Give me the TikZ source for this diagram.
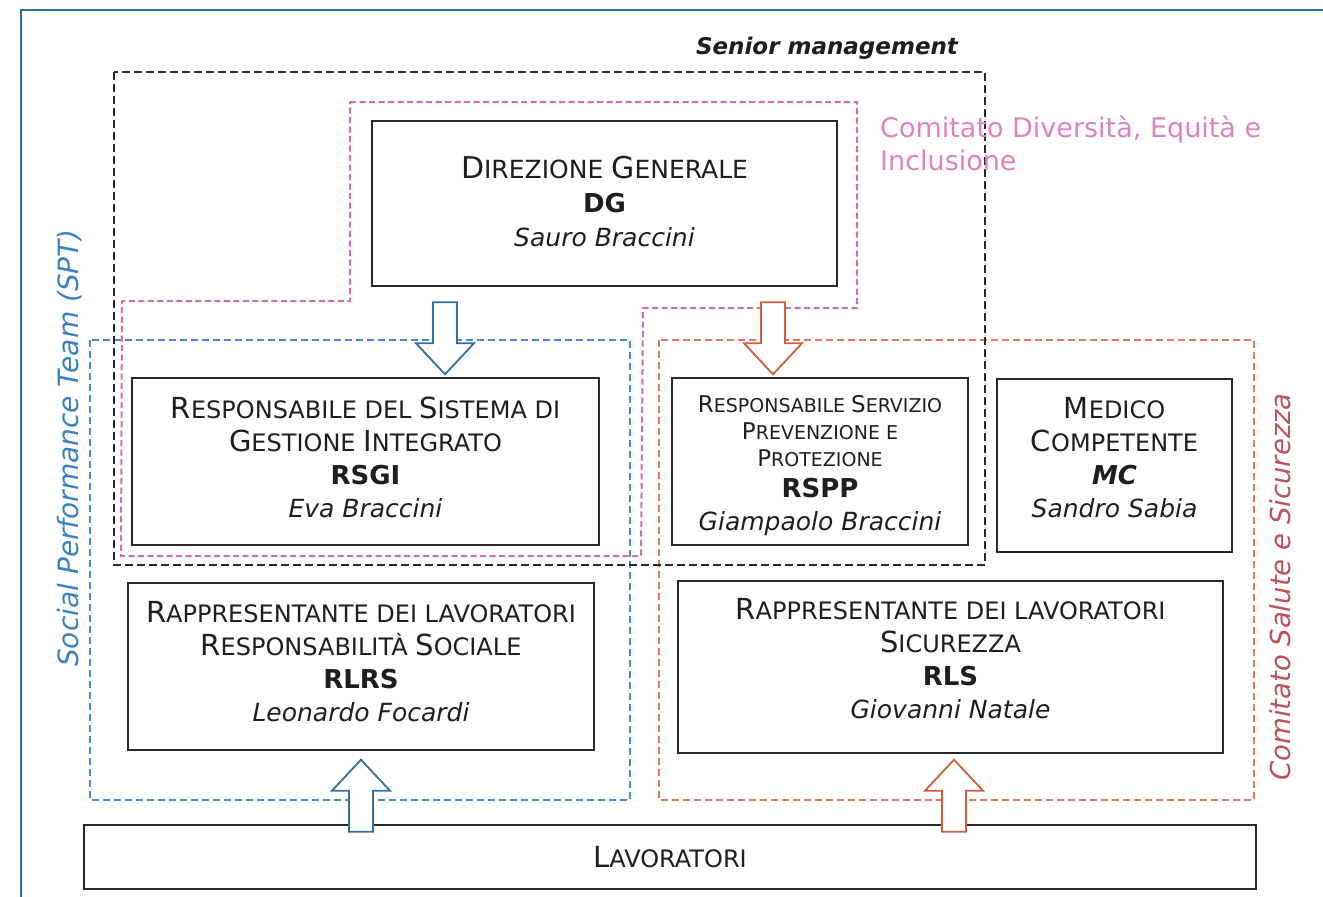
\documentclass[tikz,border=0pt]{standalone}
\usepackage{fontspec}
\setmainfont{DejaVu Sans}
\definecolor{framec}{RGB}{45,115,155}
\definecolor{boxgray}{RGB}{40,40,40}
\definecolor{textgray}{RGB}{30,30,30}
\definecolor{pinkline}{RGB}{205,110,175}
\definecolor{pinktext}{RGB}{222,130,195}
\definecolor{blueline}{RGB}{70,140,200}
\definecolor{bluetext}{RGB}{60,130,195}
\definecolor{orangeline}{RGB}{225,120,90}
\definecolor{redtext}{RGB}{190,80,95}
\definecolor{bluearrow}{RGB}{50,110,160}
\definecolor{orangearrow}{RGB}{205,95,65}
\newcommand\BC[1]{{\fontsize{29}{33}\selectfont #1}}
\newcommand\DBC[1]{{\fontsize{30}{34}\selectfont #1}}
\newcommand\SBC[1]{{\fontsize{23}{27}\selectfont #1}}
\newcommand\CODE[1]{{\fontsize{26}{33}\selectfont\bfseries #1}}
\newcommand\NAME[1]{{\fontsize{25}{33}\selectfont\itshape #1}}
\tikzset{
  box/.style={draw=boxgray, line width=2.6pt, align=center, inner sep=0pt,
    text=textgray, font=\fontsize{24}{33}\selectfont},
  smallbox/.style={box, font=\fontsize{19}{27}\selectfont},
  seniorgrp/.style={draw=boxgray, line width=2.4pt, dash pattern=on 8pt off 4pt},
  pinkgrp/.style={draw=pinkline, line width=2pt, dash pattern=on 6pt off 3.5pt},
  bluegrp/.style={draw=blueline, line width=2pt, dash pattern=on 7pt off 4pt},
  orangegrp/.style={draw=orangeline, line width=2pt, dash pattern=on 7pt off 4pt},
  blockarrow/.style={line width=1.8pt, fill=white},
  downarr/.pic={\draw[pic actions] (-12,0) -- (12,0) -- (12,41) -- (29,41) -- (0,72) -- (-29,41) -- (-12,41) -- cycle;},
  uparr/.pic={\draw[pic actions] (-12,0) -- (12,0) -- (12,-41) -- (29,-41) -- (0,-72) -- (-29,-41) -- (-12,-41) -- cycle;},
}
\begin{document}
\begin{tikzpicture}[x=1pt,y=-1pt]
\useasboundingbox (0,0) rectangle (1323,897);
% scan frame
\draw[framec, line width=2.5pt] (1323,10) -- (21,10) -- (21,897);

% group outlines
\draw[bluegrp] (90,340) rectangle (630,800);
\draw[orangegrp] (659,340) rectangle (1254,800);
\draw[pinkgrp] (350,102) -- (857,102) -- (857,308) -- (643,308) -- (641,556) -- (121,556) -- (122,301) -- (350,301) -- cycle;
\draw[seniorgrp] (114,72) rectangle (985,565);

% labels
\node[text=textgray, font=\fontsize{23}{28}\selectfont\bfseries\itshape] (senior) at (827,48) {Senior management};
\node[text=pinktext, font=\fontsize{27}{33}\selectfont, align=left, anchor=north west, inner sep=0pt] (dei) at (880,116) {Comitato Diversità, Equità e\\Inclusione};
\node[text=bluetext, font=\fontsize{28}{30}\selectfont\itshape, rotate=90] (spt) at (70,448) {Social Performance Team (SPT)};
\node[text=redtext, font=\fontsize{27.5}{30}\selectfont\itshape, rotate=90] (css) at (1280,587) {Comitato Salute e Sicurezza};

% boxes
\node[box, minimum width=465, minimum height=165, text depth=4pt, font=\fontsize{25}{34}\selectfont] (dg) at (604.5,203.5)
  {\DBC{D}IREZIONE \DBC{G}ENERALE\\ \CODE{DG}\\ \NAME{Sauro Braccini}};
\node[box, minimum width=467, minimum height=167, text depth=8pt] (rsgi) at (365.5,461.5)
  {\BC{R}ESPONSABILE DEL \BC{S}ISTEMA DI\\ \BC{G}ESTIONE \BC{I}NTEGRATO\\ \CODE{RSGI}\\ \NAME{Eva Braccini}};
\node[smallbox, minimum width=296, minimum height=167] (rspp) at (820,461.5)
  {\rule{0pt}{25pt}\SBC{R}ESPONSABILE \SBC{S}ERVIZIO\\ \SBC{P}REVENZIONE E\\ \SBC{P}ROTEZIONE\\[4pt] \CODE{RSPP}\\[6pt] \NAME{Giampaolo Braccini}};
\node[box, minimum width=235, minimum height=173, text depth=16pt] (mc) at (1114.5,465.5)
  {\BC{M}EDICO\\ \BC{C}OMPETENTE\\ {\fontsize{26}{33}\selectfont\bfseries\itshape MC}\\ \NAME{Sandro Sabia}};
\node[box, minimum width=466, minimum height=167, text depth=10pt] (rlrs) at (361,666.5)
  {\BC{R}APPRESENTANTE DEI LAVORATORI\\ \BC{R}ESPONSABILITÀ \BC{S}OCIALE\\ \CODE{RLRS}\\ \NAME{Leonardo Focardi}};
\node[box, minimum width=545, minimum height=172, text depth=17pt] (rls) at (950.5,667)
  {\BC{R}APPRESENTANTE DEI LAVORATORI\\ \BC{S}ICUREZZA\\ \CODE{RLS}\\ \NAME{Giovanni Natale}};
\node[box, minimum width=1172, minimum height=64] (lav) at (670,857)
  {\BC{L}AVORATORI};

% block arrows
\coordinate (a1) at (dg.south -| 445,0);
\coordinate (a2) at (dg.south -| 773,0);
\pic[blockarrow, draw=bluearrow] at ([yshift=-15pt]a1) {downarr};
\pic[blockarrow, draw=orangearrow] at ([yshift=-15pt]a2) {downarr};
\coordinate (a3) at (lav.north -| 361,0);
\coordinate (a4) at (lav.north -| 954,0);
\pic[blockarrow, draw=bluearrow] at ([yshift=-8pt]a3) {uparr};
\pic[blockarrow, draw=orangearrow] at ([yshift=-8pt]a4) {uparr};
\end{tikzpicture}
\end{document}
